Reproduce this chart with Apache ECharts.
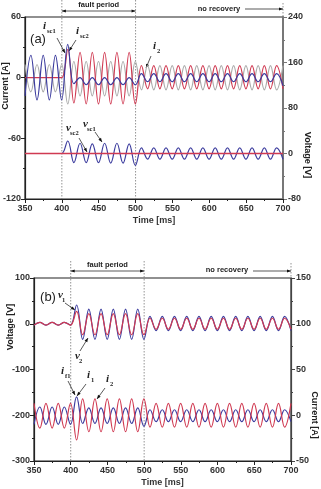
<!DOCTYPE html>
<html>
<head>
<meta charset="utf-8">
<script src="https://cdn.jsdelivr.net/npm/echarts@6.0.0/dist/echarts.min.js"></script>
<style>
  html, body { margin: 0; padding: 0; background: #fff; }
  #chart { width: 321px; height: 489px; }
</style>
</head>
<body>
<div id="chart"></div>
<script>
// instants of the peaks / troughs (ms), ~60 Hz
const t = [350, 358, 366.3, 374.7, 383, 391.3, 399.7, 408, 416.3, 424.7, 433, 441.3, 449.7,
  458, 466.3, 474.7, 483, 491.3, 499.7, 508, 516.3, 524.7, 533, 541.3, 549.7, 558, 566.3,
  574.7, 583, 591.3, 599.7, 608, 616.3, 624.7, 633, 641.3, 649.7, 658, 666.3, 674.7, 683,
  691.3, 700];
const tEnds = [350, 700];

// (a) currents [A]
const iSc1 = [-18, 22, -22, 22, -22, 22, -22, 33, -6, 0, -7, 0, -7, 0, -7, 0, -7, 0, -7,
  4, -4, 4, -4, 4, -4, 4, -4, 4, -4, 4, -4, 4, -4, 4, -4, 4, -4, 4, -4, 4, -4, 4, -8];
const iSc2 = [0, 0, 0, 0, 0, 0, 0, 28, -25, 25, -26, 25, -26, 25, -26, 25, -26, 25, -26,
  12, -11, 12, -11, 12, -11, 12, -11, 12, -11, 12, -11, 12, -11, 12, -11, 12, -11, 12, -11, 12, -11, 12, -11];
const i2a = [13, -14, 13, -14, 13, -14, 13, -26, 16, -18, 16, -18, 16, -18, 16, -18, 16, -18, 16,
  -12, 12, -12, 12, -12, 12, -12, 12, -12, 12, -12, 12, -12, 12, -12, 12, -12, 12, -12, 12, -12, 12, -12, 12];
// (a) voltages [V]
const vSc2 = [0, 0, 0, 0, 0, 0, 0, 22, -16, 18, -16, 17, -16, 18, -17, 18, -17, 17, -21,
  10, -10, 10, -10, 10, -10, 10, -10, 10, -10, 10, -10, 10, -10, 10, -10, 10, -10, 10, -10, 10, -10, 10, -10];
const vSc1 = [0, 0];

// (b) voltages [V]
const v1 = [-3, 3, -3, 3, -3, 3, -3, 41, -34, 32, -34, 32, -34, 32, -34, 32, -34, 32, -34,
  16, -15, 16, -15, 16, -15, 16, -15, 16, -15, 16, -15, 16, -15, 16, -15, 16, -15, 16, -15, 16, -15, 16, -15];
const v2 = [-3, 3, -3, 3, -3, 3, -3, 27, -24, 22, -24, 22, -24, 22, -24, 22, -24, 22, -24,
  12, -12, 12, -12, 12, -12, 12, -12, 12, -12, 12, -12, 12, -12, 12, -12, 12, -12, 12, -12, 12, -12, 12, -12];
// (b) currents [A]
const i1 = [-10, 9, -10, 9, -10, 9, -10, 20, -9, 8, -9, 8, -9, 8, -9, 8, -9, 8, -12,
  6, -7, 6, -7, 6, -7, 6, -7, 6, -7, 6, -7, 6, -7, 6, -7, 6, -7, 6, -7, 6, -7, 6, -7];
const i2b = [13, -14, 13, -14, 13, -14, 13, -27, 18, -18, 18, -18, 18, -18, 18, -18, 18, -18, 18,
  -13, 13, -13, 13, -13, 13, -13, 13, -13, 13, -13, 13, -13, 13, -13, 13, -13, 13, -13, 13, -13, 13, -13, 13];

const BLUE = '#3c3c9e', RED = '#d03a52', GREY = '#aaaaaa';
const FONT = '"Liberation Sans", Arial, sans-serif';

const pairs = (xs, ys) => xs.map((x, i) => [x, ys[i]]);

function wave(name, xs, ys, color, xi, yi, z, w) {
  return {
    name, type: 'line', xAxisIndex: xi, yAxisIndex: yi,
    data: pairs(xs, ys), smooth: 0.4, showSymbol: false, z: z,
    lineStyle: { color, width: w || 1.2 }, itemStyle: { color }
  };
}

const xAx = (gi) => ({
  type: 'value', gridIndex: gi, min: 350, max: 700, interval: 50,
  name: 'Time [ms]', nameLocation: 'middle', nameGap: 17,
  nameTextStyle: { fontSize: 9, fontWeight: 'bold', color: '#333', fontFamily: FONT },
  axisLine: { onZero: false, lineStyle: { color: '#222', width: 1.2 } },
  axisTick: { length: 4, lineStyle: { color: '#222' } },
  minorTick: { show: true, splitNumber: 2, length: 2, lineStyle: { color: '#222' } },
  splitLine: { show: false },
  axisLabel: { fontSize: 9, fontWeight: 'bold', color: '#333', fontFamily: FONT, margin: 5 }
});

const yAx = (gi, pos, min, max, step, color, width) => ({
  type: 'value', gridIndex: gi, position: pos, min, max, interval: step,
  axisLine: { show: true, onZero: false, lineStyle: { color, width } },
  axisTick: { show: true, length: 4, lineStyle: { color } },
  minorTick: { show: true, splitNumber: 2, length: 2, lineStyle: { color } },
  splitLine: { show: false },
  axisLabel: { fontSize: 9, fontWeight: 'bold', color: '#333', fontFamily: FONT, margin: pos === 'left' ? 4 : 5 }
});

const chart = echarts.init(document.getElementById('chart'), null, { renderer: 'canvas' });

chart.setOption({
  animation: false,
  backgroundColor: '#fff',
  grid: [
    { left: 25, right: 38, top: 17, height: 182, show: true, borderColor: '#222', borderWidth: 1.2, backgroundColor: 'transparent', outerBoundsMode: 'none' },
    { left: 34, right: 30, top: 278, height: 183, show: true, borderColor: '#222', borderWidth: 1.2, backgroundColor: 'transparent', outerBoundsMode: 'none' }
  ],
  xAxis: [xAx(0), xAx(1)],
  yAxis: [
    yAx(0, 'left', -120, 60, 60, '#222', 1.2),
    yAx(0, 'right', -80, 240, 80, '#777', 2),
    yAx(1, 'left', -300, 100, 100, '#222', 1.2),
    yAx(1, 'right', -50, 150, 50, '#444', 1.2)
  ],
  series: [
    wave('i2', t, i2a, GREY, 0, 0, 2),
    wave('isc2', t, iSc2, RED, 0, 0, 3),
    wave('isc1', t, iSc1, BLUE, 0, 0, 4),
    wave('vsc2', t, vSc2, BLUE, 0, 1, 3),
    wave('vsc1', tEnds, vSc1, RED, 0, 1, 5, 1.5),
    wave('v1', t, v1, BLUE, 1, 2, 3),
    wave('v2', t, v2, RED, 1, 2, 4),
    wave('i1', t, i1, BLUE, 1, 3, 3),
    wave('i2b', t, i2b, RED, 1, 3, 4)
  ]
});

// ---- annotations ----
function txt(x, y, text, font, opts) {
  return Object.assign({
    type: 'text', x, y, silent: true,
    style: { text, font, fill: '#222', align: 'center', verticalAlign: 'middle', textAlign: 'center', textVerticalAlign: 'middle' }
  }, opts || {});
}

function head(xa, ya, xb, yb) {
  const a = Math.atan2(yb - ya, xb - xa), L = 4, W = 1.6;
  const c = Math.cos(a), s = Math.sin(a);
  return {
    type: 'polygon', silent: true,
    shape: { points: [[xb, yb], [xb - L * c + W * s, yb - L * s - W * c], [xb - L * c - W * s, yb - L * s + W * c]] },
    style: { fill: '#111' }
  };
}

function arrow(x1, y1, x2, y2, both) {
  const els = [{ type: 'line', silent: true, shape: { x1, y1, x2, y2 }, style: { stroke: '#111', lineWidth: 0.7 } }, head(x1, y1, x2, y2)];
  if (both) els.push(head(x2, y2, x1, y1));
  return els;
}

function sym(x, y, main, sub) {
  return [
    { type: 'text', x, y, silent: true, style: { text: main, font: 'italic bold 11px "Liberation Serif", serif', fill: '#222', align: 'left', verticalAlign: 'middle', textAlign: 'left', textVerticalAlign: 'middle' } },
    { type: 'text', x: x + 4, y: y + 5, silent: true, style: { text: sub, font: 'bold 6.5px "Liberation Serif", serif', fill: '#222', align: 'left', verticalAlign: 'middle', textAlign: 'left', textVerticalAlign: 'middle' } }
  ];
}

function dotted(x, y1, y2) {
  return { type: 'line', silent: true, shape: { x1: x, y1, x2: x, y2 }, style: { stroke: '#777', lineWidth: 0.8, lineDash: [1.5, 1.5] } };
}

const px = (xi, v) => chart.convertToPixel({ xAxisIndex: xi }, v);
const a400 = px(0, 400), a500 = px(0, 500), a700 = px(0, 700);
const b400 = px(1, 400), b500 = px(1, 500), b700 = px(1, 700);

const bold = 'bold 7.5px ' + FONT;
const axisFont = 'bold 9px ' + FONT;

const g = [
  dotted(a400, 0, 199), dotted(a500, 0, 199), dotted(a700, 3, 17),
  dotted(b400, 261, 461), dotted(b500, 261, 461), dotted(b700, 263, 278),
  txt((a400 + a500) / 2, 5, 'fault period', bold),
  ...arrow(a400, 11, a500, 11, true),
  txt(219, 8.5, 'no recovery', bold),
  ...arrow(245, 9, a700, 9),
  txt((b400 + b500) / 2, 265, 'fault period', bold),
  ...arrow(b400, 271, b500, 271, true),
  txt(227, 270, 'no recovery', bold),
  ...arrow(253, 271, b700, 271),

  txt(38, 39, '(a)', '13px ' + FONT, {}),
  txt(48, 297.5, '(b)', '13px ' + FONT, {}),

  txt(6, 86, 'Current [A]', axisFont, { rotation: Math.PI / 2 }),
  txt(307, 155, 'Voltage [V]', axisFont, { rotation: -Math.PI / 2 }),
  txt(11, 327, 'Voltage [V]', axisFont, { rotation: Math.PI / 2 }),
  txt(314, 415, 'Current [A]', axisFont, { rotation: -Math.PI / 2 }),

  ...sym(43, 26, 'i', 'sc1'), ...arrow(57, 38, 65, 53),
  ...sym(76, 31, 'i', 'sc2'), ...arrow(76, 40, 69, 51),
  ...sym(153, 46, 'i', '2'), ...arrow(151, 56, 146, 68),
  ...sym(66, 128, 'v', 'sc2'), ...arrow(79, 138, 87, 152),
  ...sym(83, 124, 'v', 'sc1'), ...arrow(95, 132, 102, 142),

  ...sym(58, 295, 'v', '1'), ...arrow(65, 303, 75, 310),
  ...sym(75, 356, 'v', '2'), ...arrow(80, 351, 88, 338),
  ...sym(61, 371, 'i', 'f1'), ...arrow(68, 381, 75, 395),
  ...sym(87, 375, 'i', '1'), ...arrow(86, 384, 77, 396),
  ...sym(106, 379, 'i', '2'), ...arrow(105, 388, 97, 399)
];

chart.setOption({ graphic: { elements: g } });
</script>
</body>
</html>
